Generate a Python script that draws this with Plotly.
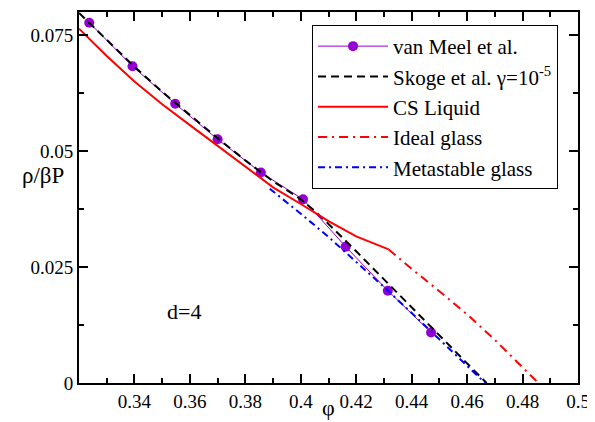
import plotly.graph_objects as go

# ---- data ----
phi_meel = [0.3237, 0.3393, 0.3547, 0.3700, 0.3856, 0.4008, 0.4162, 0.4314, 0.4470]
y_meel = [0.0777, 0.0683, 0.0602, 0.05255, 0.0454, 0.0396, 0.0294, 0.0199, 0.0109]

phi_skoge = [0.320, 0.330, 0.340, 0.350, 0.360, 0.370, 0.380, 0.390, 0.395, 0.400,
             0.405, 0.410, 0.420, 0.430, 0.440, 0.450, 0.460, 0.467]
y_skoge = [0.0798, 0.0740, 0.0682, 0.0628, 0.0577, 0.0528, 0.0480, 0.0435, 0.0416, 0.0396,
           0.0371, 0.0343, 0.0284, 0.0224, 0.0163, 0.0102, 0.0042, 0.0]

phi_cs = [0.32, 0.33, 0.34, 0.35, 0.36, 0.37, 0.38, 0.39, 0.40, 0.41, 0.42, 0.4317]
y_cs = [0.0764, 0.0705, 0.0650, 0.0601, 0.0556, 0.0511, 0.0466, 0.0422, 0.0386, 0.0349, 0.0316, 0.0288]

phi_ideal = [0.4317, 0.44, 0.45, 0.46, 0.47, 0.48, 0.4857]
y_ideal = [0.0288, 0.0246, 0.0198, 0.0148, 0.0093, 0.0035, 0.0]

phi_meta = [0.3888, 0.395, 0.40, 0.41, 0.42, 0.43, 0.44, 0.45, 0.46, 0.4665]
y_meta = [0.0419, 0.0390, 0.0365, 0.0315, 0.0262, 0.0207, 0.0151, 0.0094, 0.0036, 0.0]

x_tickvals = [0.34, 0.36, 0.38, 0.40, 0.42, 0.44, 0.46, 0.48, 0.50]
x_ticktext = ["0.34", "0.36", "0.38", "0.4", "0.42", "0.44", "0.46", "0.48", "0.5"]
y_tickvals = [0, 0.025, 0.05, 0.075]
y_ticktext = ["0", "0.025", "0.05", "0.075"]

names = ["van Meel et al.", "Skoge et al. γ=10<sup>-5</sup>", "CS Liquid",
         "Ideal glass", "Metastable glass"]

FONT = "Liberation Serif"

fig = go.Figure()
fig.add_trace(go.Scatter(x=phi_meel, y=y_meel, mode="lines+markers", name=names[0],
                         line=dict(color="#9400d3", width=1),
                         marker=dict(color="#9400d3", size=10)))
fig.add_trace(go.Scatter(x=phi_skoge, y=y_skoge, mode="lines", name=names[1],
                         line=dict(color="black", width=2, dash="8px,5px")))
fig.add_trace(go.Scatter(x=phi_cs, y=y_cs, mode="lines", name=names[2],
                         line=dict(color="#ff0000", width=2)))
fig.add_trace(go.Scatter(x=phi_ideal, y=y_ideal, mode="lines", name=names[3],
                         line=dict(color="#ff0000", width=2, dash="9px,5px,2px,5px")))
fig.add_trace(go.Scatter(x=phi_meta, y=y_meta, mode="lines", name=names[4],
                         line=dict(color="#0000ff", width=2, dash="7px,4px,2px,4px")))

axis_common = dict(showline=True, linecolor="black", linewidth=2, mirror="allticks",
                   ticks="inside", ticklen=9, tickwidth=1.5, tickcolor="black",
                   showgrid=False, zeroline=False,
                   tickfont=dict(family=FONT, size=19, color="black"))

fig.update_xaxes(range=[0.32, 0.5], tickvals=x_tickvals, ticktext=x_ticktext,
                 minor=dict(ticks="inside", ticklen=5, tickwidth=1.5, tickcolor="black",
                            dtick=0.01, tick0=0.32, showgrid=False),
                 **axis_common)
fig.update_yaxes(range=[0, 0.08], tickvals=y_tickvals, ticktext=y_ticktext,
                 minor=dict(ticks="inside", ticklen=5, tickwidth=1.5, tickcolor="black",
                            dtick=0.0125, tick0=0, showgrid=False),
                 **axis_common)

fig.update_layout(
    width=595, height=422,
    margin=dict(l=71, r=25, t=2, b=47),
    paper_bgcolor="white", plot_bgcolor="white",
    font=dict(family=FONT, color="black"),
    legend=dict(x=0.467, y=0.965, xanchor="left", yanchor="top",
                bgcolor="white", bordercolor="black", borderwidth=1,
                font=dict(family=FONT, size=21, color="black"),
                itemwidth=70, tracegroupgap=0),
    showlegend=True,
    annotations=[
        dict(text="ρ/βP", xref="paper", yref="paper", x=-0.072, y=0.56,
             xanchor="center", yanchor="middle", showarrow=False,
             font=dict(family=FONT, size=23, color="black")),
        dict(text="φ", xref="x", yref="paper", x=0.41, y=-0.067,
             xanchor="center", yanchor="middle", showarrow=False,
             font=dict(family=FONT, size=22, color="black")),
        dict(text="d=4", xref="x", yref="y", x=0.358, y=0.0155,
             xanchor="center", yanchor="middle", showarrow=False,
             font=dict(family=FONT, size=22, color="black")),
    ],
)

fig.write_html("out.html", config={"displayModeBar": False})
